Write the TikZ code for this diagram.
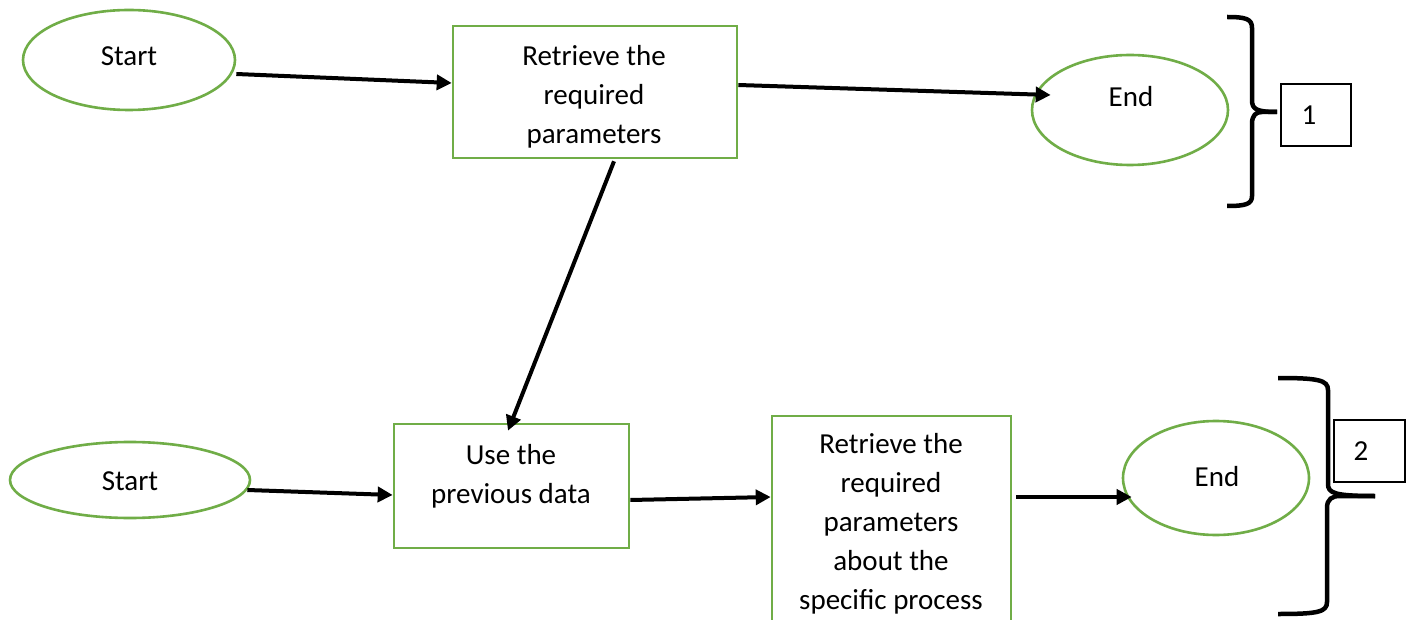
\documentclass[tikz,border=0pt]{standalone}
\usepackage{fontspec}
\setmainfont{Carlito}
\usetikzlibrary{arrows.meta,calc,shapes.geometric}
\definecolor{flowgreen}{RGB}{112,173,71}
\begin{document}
\begin{tikzpicture}[x=1pt,y=-1pt,
  term/.style={ellipse,draw=flowgreen,line width=2.6pt,inner sep=0pt},
  proc/.style={rectangle,draw=flowgreen,line width=2.6pt,inner sep=0pt},
  numbox/.style={rectangle,draw=black,line width=1.8pt,inner sep=0pt},
  lbl/.style={inner sep=0pt,align=center,font=\fontsize{29}{39}\selectfont},
  flow/.style={line width=4pt,-{Triangle[length=15pt,width=15pt]}},
  brace/.style={line width=4.5pt,line cap=butt,line join=round}]
\clip (0,0) rectangle (1413,620);
\fill[white] (0,0) rectangle (1413,620);

% first chain
\node[term,minimum width=212pt,minimum height=100pt] (s1) at (129,60) {};
\node[proc,minimum width=284pt,minimum height=132pt] (b1) at (595,92) {};
\node[term,minimum width=196pt,minimum height=110pt] (e1) at (1130,110) {};
\node[lbl] (s1t) at (129,56) {Start};
\node[lbl] (b1t) at (594,97) {Retrieve the\\required\\parameters};
\node[lbl] (e1t) at (1131,97) {End};

% second chain
\node[term,minimum width=240pt,minimum height=76pt] (s2) at (130,480) {};
\node[proc,minimum width=235pt,minimum height=124pt] (u) at (511.5,486) {};
\node[proc,minimum width=239pt,minimum height=224pt] (r2) at (891.5,528) {};
\node[term,minimum width=186pt,minimum height=114pt] (e2) at (1216,478) {};
\node[lbl] (s2t) at (130,481) {Start};
\node[lbl] (ut) at (511,476) {Use the\\previous data};
\node[lbl] (r2t) at (891,524) {Retrieve the\\required\\parameters\\about the\\specific process};
\node[lbl] (e2t) at (1217,477) {End};

% connectors
\draw[flow] ($(s1.east)+(0,14)$) -- ($(b1.west)+(0,-9)$);
\draw[flow] ($(b1.east)+(0,-7)$) -- ($(e1.west)+(20,-15)$);
\draw[flow] ($(b1.south)+(19,2)$) -- ($(u.north)+(-3.5,8)$);
\draw[flow] ($(s2.east)+(-4,10)$) -- ($(u.west)+(0,9)$);
\draw[flow] ($(u.east)+(0,14)$) -- ($(r2.west)+(0,-31)$);
\draw[flow] ($(r2.east)+(4,-31)$) -- ($(e2.west)+(10,19)$);

% group braces and their numbers
\coordinate (g1) at (1277,112);
\draw[brace] (1227,17) .. controls (1246,17) and (1252,19) .. (1252,28)
  -- (1252,100) .. controls (1252,109) and (1256,112) .. (g1);
\draw[brace] (g1) -- (1262,112) .. controls (1256,112) and (1252,115) .. (1252,124)
  -- (1252,196) .. controls (1252,204) and (1246,206) .. (1227,206);
\node[numbox,minimum width=70pt,minimum height=62pt] (n1) at (1316,115) {};
\node[lbl] (n1t) at (1309,115) {1};

\coordinate (g2) at (1375,496);
\draw[brace] (1278,378) .. controls (1318,378) and (1328,380) .. (1328,390)
  -- (1328,484) .. controls (1328,493) and (1334,496) .. (g2);
\draw[brace] (g2) -- (1340,496) .. controls (1332,496) and (1327,499) .. (1327,508)
  -- (1327,602) .. controls (1327,612) and (1318,614) .. (1278,614);
\node[numbox,minimum width=71pt,minimum height=62pt] (n2) at (1369.5,451) {};
\node[lbl] (n2t) at (1361,451) {2};
\end{tikzpicture}
\end{document}
